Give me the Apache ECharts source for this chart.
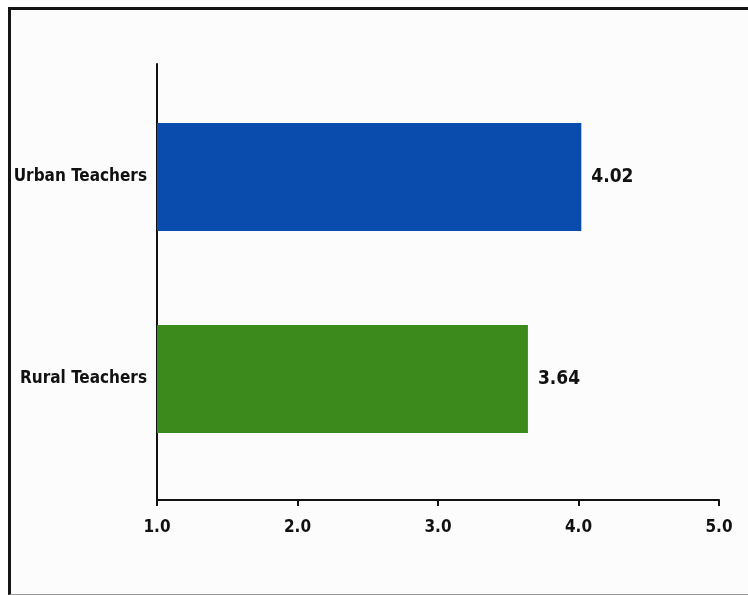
<!DOCTYPE html>
<html>
<head>
<meta charset="utf-8">
<script src="https://cdn.jsdelivr.net/npm/echarts@6/dist/echarts.min.js"></script>
<style>
  html, body { margin: 0; padding: 0; background: #ffffff; overflow: hidden; }
  #frame {
    position: absolute; left: 8px; top: 7px; width: 760px; height: 584px;
    border-left: 3px solid #151515; border-top: 3px solid #151515;
    border-bottom: 1px solid #9a9a9a; background: #fcfcfc;
  }
  #chart { position: absolute; left: 0; top: 0; width: 748px; height: 596px; }
</style>
</head>
<body>
<div id="frame"></div>
<div id="chart"></div>
<script>
// Categories listed bottom to top on the vertical axis
const categories = ['Rural Teachers', 'Urban Teachers'];
const values = [3.64, 4.02];
const barColors = ['#3d8a1c', '#0a4cae'];
const xTicks = [1.0, 2.0, 3.0, 4.0, 5.0];

const FONT = '"DejaVu Sans Condensed", "Liberation Sans Narrow", "Roboto", sans-serif';

const chart = echarts.init(document.getElementById('chart'));
chart.setOption({
  animation: false,
  grid: [
    // plotting area holding the bars
    { left: 157, right: 29, top: 76, bottom: 116 },
    // taller frame carrying the vertical axis line
    { left: 157, right: 29, top: 64, bottom: 96 }
  ],
  xAxis: [{
    gridIndex: 0,
    type: 'value',
    min: xTicks[0],
    max: xTicks[xTicks.length - 1],
    interval: 1,
    offset: 20,
    splitLine: { show: false },
    axisLine: { show: true, lineStyle: { color: '#111', width: 2 } },
    axisTick: { show: true, length: 6, lineStyle: { color: '#111', width: 2 } },
    axisLabel: {
      margin: 19,
      color: '#111',
      fontFamily: FONT,
      fontWeight: 'bold',
      fontSize: 17,
      formatter: v => v.toFixed(1)
    }
  }, {
    gridIndex: 1,
    type: 'value',
    show: false
  }],
  yAxis: [{
    gridIndex: 0,
    type: 'category',
    data: categories,
    axisLine: { show: false },
    axisTick: { show: false },
    axisLabel: {
      margin: 10,
      color: '#111',
      fontFamily: FONT,
      fontWeight: 'bold',
      fontSize: 17
    }
  }, {
    gridIndex: 1,
    type: 'value',
    axisLine: { show: true, lineStyle: { color: '#111', width: 2 } },
    axisTick: { show: false },
    axisLabel: { show: false },
    splitLine: { show: false }
  }],
  series: [{
    type: 'bar',
    xAxisIndex: 0,
    yAxisIndex: 0,
    barWidth: 108,
    data: values.map((v, i) => ({ value: v, itemStyle: { color: barColors[i] } })),
    label: {
      show: true,
      position: 'right',
      distance: 10,
      color: '#111',
      fontFamily: FONT,
      fontWeight: 'bold',
      fontSize: 19,
      formatter: p => p.value.toFixed(2)
    }
  }]
});
</script>
</body>
</html>
